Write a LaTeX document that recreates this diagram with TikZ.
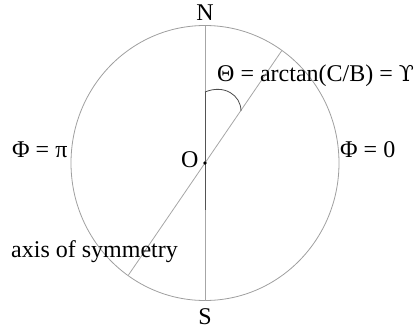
\documentclass[tikz,border=0pt]{standalone}
\usepackage{fontspec}
\setmainfont{Liberation Serif}
\newfontfamily\dvserif{DejaVu Serif}
\begin{document}
\begin{tikzpicture}[x=1pt,y=-1pt,
  lbl/.style={inner sep=0pt,font=\fontsize{24}{26}\selectfont},
  rim/.style={draw=gray!75,line width=0.8pt},
  axisline/.style={draw=gray!70,line width=0.9pt},
  axismid/.style={draw=gray!65!black,line width=0.9pt},
  diag/.style={draw=gray!70,line width=0.8pt}]
\useasboundingbox (0,0) rectangle (416,335);
\coordinate (O) at (205,163);
\coordinate (top) at (205,25.5);
\coordinate (bot) at (205,300.5);
\coordinate (ue) at (281.8,50.6);
\coordinate (le) at (128.2,275.4);
\coordinate (arcA) at (205,92);
\coordinate (arcB) at (241,111);
\coordinate (midEnd) at (205,210);
\draw[rim] (O) ellipse [x radius=134, y radius=137.5];
\draw[axisline] (top) -- (bot);
\draw[axismid] (arcA) -- (midEnd);
\draw[diag] (le) -- (ue);
\draw[draw=gray!60!black,line width=0.8pt] (arcA) .. controls (224,84) and (241,95) .. (arcB);
\fill (O) circle (1.8);
\node[lbl,anchor=base] (N) at (205,20) {N};
\node[lbl,anchor=base] (S) at (205,324) {S};
\node[lbl,anchor=base west] (phipi) at (12,157) {Φ = π};
\node[lbl,anchor=base west] (phi0) at (340,157) {Φ = 0};
\node[lbl,anchor=base west] (Olbl) at (181,167) {O};
\node[lbl,anchor=base west] (theta) at (217,81) {Θ = arctan(C/B) = {\dvserif\fontsize{22}{26}\selectfont ϒ}};
\node[lbl,anchor=base west] (axis) at (11,257) {axis of symmetry};
\end{tikzpicture}
\end{document}
